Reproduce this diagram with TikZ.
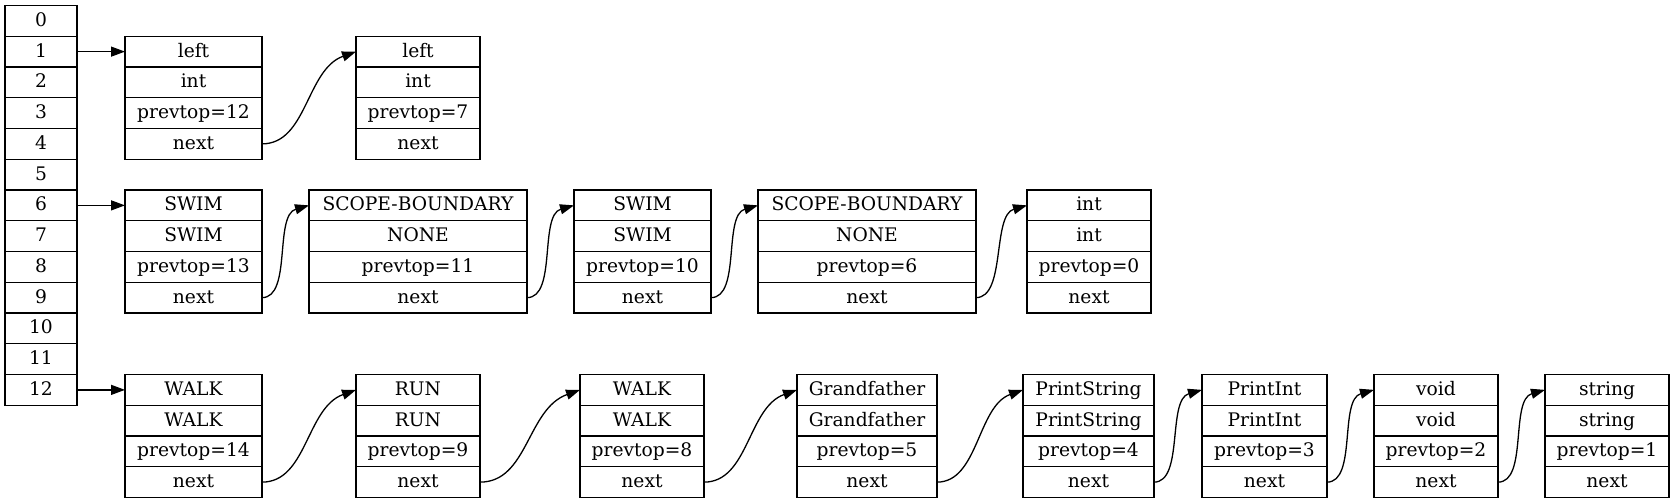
\documentclass[tikz,border=0pt]{standalone}
\usepackage{fontspec}
\setmainfont{DejaVu Serif}
\usetikzlibrary{arrows.meta,calc}
\tikzset{
  cell/.style={draw=black, line width=1.3pt, inner sep=0pt, outer sep=0pt,
    minimum height=30.75pt, text height=14pt, text depth=3pt,
    font=\fontsize{18.67}{22}\selectfont},
  link/.style={line width=1.3pt, -{Triangle[length=14pt,width=10pt]}},
}
% name, x1, x2, ytop, t1..t4
\newcommand\recbox[8]{%
  \node[cell,minimum width={(#3-#2)*1pt}] (#1-1) at ({(#2+#3)/2},{#4+15.375}) {#5};
  \node[cell,minimum width={(#3-#2)*1pt}] (#1-2) at ({(#2+#3)/2},{#4+46.125}) {#6};
  \node[cell,minimum width={(#3-#2)*1pt}] (#1-3) at ({(#2+#3)/2},{#4+76.875}) {#7};
  \node[cell,minimum width={(#3-#2)*1pt}] (#1-4) at ({(#2+#3)/2},{#4+107.625}) {#8};
}
% wide gap: from, to, dx
\newcommand\widelink[3]{%
  \draw[link] (#1-4.east) .. controls +({0.48*#3},0) and +({-0.53*#3},{0.19*#3}) .. (#2-1.west);
}
% narrow gap: from, to
\newcommand\narrowlink[2]{%
  \draw[link] (#1-4.east) .. controls +(30,0) and +(-35,10) .. (#2-1.west);
}
\begin{document}
\begin{tikzpicture}[x=1pt,y=-1pt]
\useasboundingbox (0,0) rectangle (1676,503);
\foreach \i in {0,...,12}
  \node[cell,minimum width=72pt] (t\i) at (41,{5.5+30.75*\i+15.375}) {\i};
% row 1
\recbox{a}{125}{262}{36.25}{left}{int}{prevtop=12}{next}
\recbox{b}{356}{480}{36.25}{left}{int}{prevtop=7}{next}
% row 2
\recbox{c}{125}{262}{190}{SWIM}{SWIM}{prevtop=13}{next}
\recbox{d}{309}{527}{190}{SCOPE-BOUNDARY}{NONE}{prevtop=11}{next}
\recbox{e}{574}{711}{190}{SWIM}{SWIM}{prevtop=10}{next}
\recbox{f}{758}{976}{190}{SCOPE-BOUNDARY}{NONE}{prevtop=6}{next}
\recbox{g}{1027}{1151}{190}{int}{int}{prevtop=0}{next}
% row 3
\recbox{h}{125}{262}{374.5}{WALK}{WALK}{prevtop=14}{next}
\recbox{i}{356}{480}{374.5}{RUN}{RUN}{prevtop=9}{next}
\recbox{j}{580}{704}{374.5}{WALK}{WALK}{prevtop=8}{next}
\recbox{k}{797}{937}{374.5}{Grandfather}{Grandfather}{prevtop=5}{next}
\recbox{l}{1023}{1154}{374.5}{PrintString}{PrintString}{prevtop=4}{next}
\recbox{m}{1202}{1327}{374.5}{PrintInt}{PrintInt}{prevtop=3}{next}
\recbox{n}{1374}{1498}{374.5}{void}{void}{prevtop=2}{next}
\recbox{o}{1545}{1669}{374.5}{string}{string}{prevtop=1}{next}
% table links
\draw[link] (t1.east) -- (a-1.west);
\draw[link] (t6.east) -- (c-1.west);
\draw[link] (t12.east) -- (h-1.west);
% next links
\widelink{a}{b}{94}
\narrowlink{c}{d}
\narrowlink{d}{e}
\narrowlink{e}{f}
\narrowlink{f}{g}
\widelink{h}{i}{94}
\widelink{i}{j}{100}
\widelink{j}{k}{93}
\widelink{k}{l}{86}
\narrowlink{l}{m}
\narrowlink{m}{n}
\narrowlink{n}{o}
\end{tikzpicture}
\end{document}
